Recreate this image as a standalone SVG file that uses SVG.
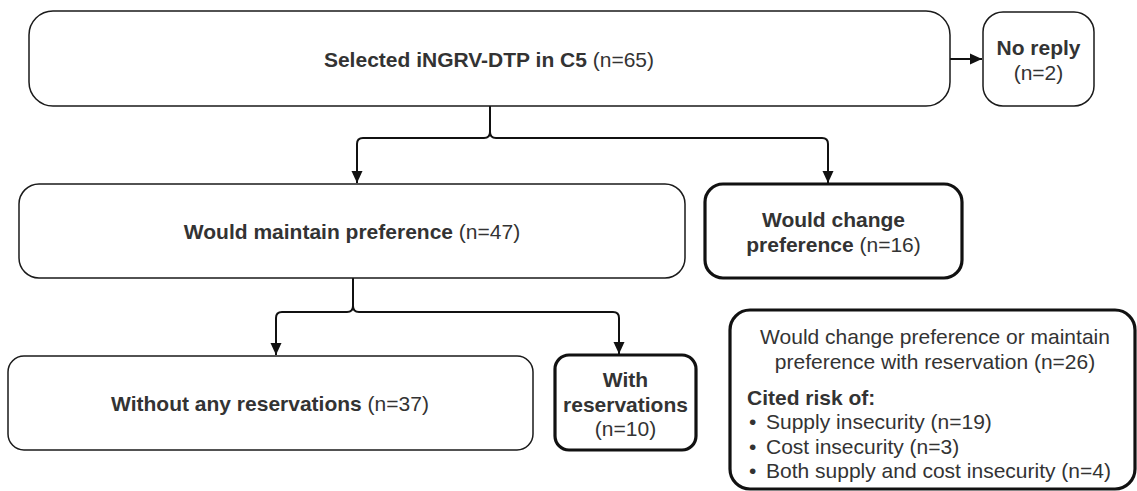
<svg xmlns="http://www.w3.org/2000/svg" width="1137" height="491" viewBox="0 0 1137 491">
<defs>
<style>
.box{fill:#fff;stroke:#1a1a1a;stroke-width:1.5}
.thick{fill:#fff;stroke:#111;stroke-width:3.2}
.t{font-family:"Liberation Sans",Arial,sans-serif;font-size:21px;fill:#333;text-anchor:middle}
.b{font-weight:bold}
.r{font-weight:normal}
.l{text-anchor:start}
.c{fill:none;stroke:#111;stroke-width:2}
</style>
<marker id="ah" viewBox="0 0 12 12" refX="12" refY="6" markerWidth="12" markerHeight="12" markerUnits="userSpaceOnUse" orient="auto">
<path d="M0,0.5 L12,6 L0,11.5 z" fill="#111"/>
</marker>
</defs>
<rect width="1137" height="491" fill="#fff"/>
<g id="connectors">
<path class="c" d="M490,106 V132 Q490,138 484,138 H363 Q357,138 357,144 V183" marker-end="url(#ah)"/>
<path class="c" d="M490,132 Q490,138 496,138 H822 Q828,138 828,144 V183" marker-end="url(#ah)"/>
<path class="c" d="M950,59 H982" marker-end="url(#ah)"/>
<path class="c" d="M353,278 V306 Q353,312 347,312 H282 Q276,312 276,318 V355" marker-end="url(#ah)"/>
<path class="c" d="M353,306 Q353,312 359,312 H613 Q619,312 619,318 V354" marker-end="url(#ah)"/>
</g>
<g id="selected">
<rect class="box" x="29" y="11" width="921" height="95" rx="24"/>
<text class="t" x="489" y="67"><tspan class="b">Selected iNGRV-DTP in C5</tspan><tspan class="r"> (n=65)</tspan></text>
</g>
<g id="noreply">
<rect class="box" x="983" y="12" width="111" height="94" rx="20"/>
<text class="t b" x="1038.5" y="55">No reply</text>
<text class="t r" x="1038.5" y="80">(n=2)</text>
</g>
<g id="maintain">
<rect class="box" x="19" y="184" width="666" height="94" rx="20"/>
<text class="t" x="352" y="239"><tspan class="b">Would maintain preference</tspan><tspan class="r"> (n=47)</tspan></text>
</g>
<g id="change">
<rect class="thick" x="705" y="184" width="257" height="94" rx="18"/>
<text class="t b" x="833.5" y="227">Would change</text>
<text class="t" x="833.5" y="252"><tspan class="b">preference</tspan><tspan class="r"> (n=16)</tspan></text>
</g>
<g id="without">
<rect class="box" x="8" y="356" width="525" height="94" rx="16"/>
<text class="t" x="270" y="411"><tspan class="b">Without any reservations</tspan><tspan class="r"> (n=37)</tspan></text>
</g>
<g id="with">
<rect class="thick" x="555" y="355" width="141" height="95" rx="14"/>
<text class="t b" x="625.5" y="387">With</text>
<text class="t b" x="625.5" y="412">reservations</text>
<text class="t r" x="625.5" y="436">(n=10)</text>
</g>
<g id="summary">
<rect class="thick" x="730" y="310" width="405" height="179" rx="20"/>
<text class="t r" x="935" y="344">Would change preference or maintain</text>
<text class="t r" x="935" y="369">preference with reservation (n=26)</text>
<text class="t b l" x="747" y="405">Cited risk of:</text>
<text class="t r l" x="749" y="429">•</text>
<text class="t r l" x="766" y="429">Supply insecurity (n=19)</text>
<text class="t r l" x="749" y="454">•</text>
<text class="t r l" x="766" y="454">Cost insecurity (n=3)</text>
<text class="t r l" x="749" y="478">•</text>
<text class="t r l" x="766" y="478">Both supply and cost insecurity (n=4)</text>
</g>
</svg>
